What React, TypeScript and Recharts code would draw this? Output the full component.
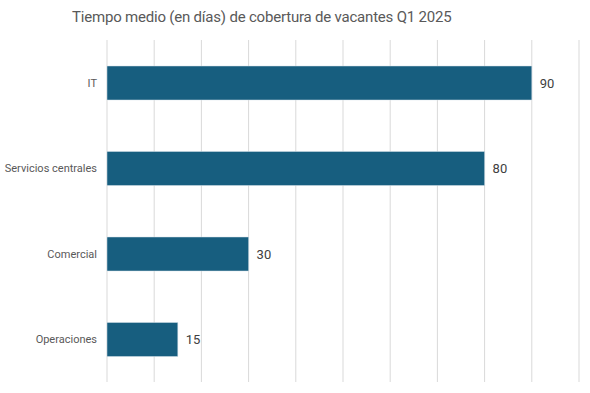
import { BarChart, Bar, XAxis, YAxis, CartesianGrid, LabelList } from 'recharts'

const categories = ['IT', 'Servicios centrales', 'Comercial', 'Operaciones']
const dias = [90, 80, 30, 15]
const xTicks = [0, 10, 20, 30, 40, 50, 60, 70, 80, 90, 100]

const data = categories.map((name, i) => ({ name, value: dias[i] }))

const FONT = 'Roboto, "Liberation Sans", sans-serif'

// plain right-aligned label, no wrapping
function CategoryTick({ x, y, payload }: { x?: number; y?: number; payload?: { value: string } }) {
  return (
    <text x={x} y={y} dy={4} textAnchor="end" fill="#595959" fontSize={11} fontFamily={FONT}>
      {payload?.value}
    </text>
  )
}

export default function App() {
  return (
    <div style={{ position: 'absolute', left: 0, top: 0, width: 590, height: 393, background: '#fff', fontFamily: FONT }}>
      <div style={{ position: 'absolute', top: 8, left: 72, whiteSpace: 'nowrap', fontSize: 15, letterSpacing: -0.2, color: '#595959' }}>
        Tiempo medio (en días) de cobertura de vacantes Q1 2025
      </div>
      <BarChart
        width={590}
        height={393}
        data={data}
        layout="vertical"
        margin={{ top: 40, right: 11, bottom: 11, left: 7 }}
        barSize={34}
      >
        <CartesianGrid horizontal={false} vertical stroke="#d9d9d9" />
        <XAxis type="number" domain={[0, 100]} ticks={xTicks} hide />
        <YAxis
          type="category"
          dataKey="name"
          width={100}
          axisLine={false}
          tickLine={false}
          tickSize={0}
          tickMargin={10}
          tick={<CategoryTick />}
        />
        <Bar dataKey="value" fill="#175e7f" stroke="#d6e3ea" strokeWidth={0.5} isAnimationActive={false}>
          <LabelList dataKey="value" position="right" offset={8} fill="#404040" fontSize={13} fontFamily={FONT} />
        </Bar>
      </BarChart>
    </div>
  )
}
